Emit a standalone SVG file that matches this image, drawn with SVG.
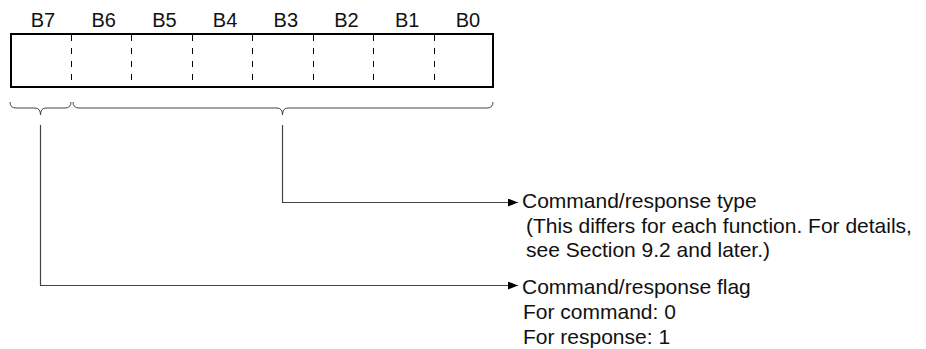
<svg xmlns="http://www.w3.org/2000/svg" width="926" height="349" viewBox="0 0 926 349">
<defs>
<style>
.lbl{font-family:"Liberation Sans",Arial,sans-serif;font-size:20px;fill:#111;text-anchor:middle}
.txt{font-family:"Liberation Sans",Arial,sans-serif;font-size:21px;fill:#111}
.div{stroke:#000;stroke-width:1;stroke-dasharray:6 7}
.con{fill:none;stroke:#444;stroke-width:1.2}
.brace{fill:none;stroke:#444;stroke-width:1}
</style>
<marker id="arr" viewBox="0 0 10 8" refX="10" refY="4" markerWidth="10" markerHeight="8" markerUnits="userSpaceOnUse" orient="auto">
<path d="M0,0 L10,4 L0,8 Z" fill="#000"/>
</marker>
</defs>
<rect width="926" height="349" fill="#fff"/>
<g id="register">
<g id="labels">
<text class="lbl" x="43" y="26.5">B7</text>
<text class="lbl" x="103.7" y="26.5">B6</text>
<text class="lbl" x="164.4" y="26.5">B5</text>
<text class="lbl" x="225.1" y="26.5">B4</text>
<text class="lbl" x="285.8" y="26.5">B3</text>
<text class="lbl" x="346.5" y="26.5">B2</text>
<text class="lbl" x="407.2" y="26.5">B1</text>
<text class="lbl" x="467.9" y="26.5">B0</text>
</g>
<rect x="11" y="34" width="482" height="53" fill="#fff" stroke="#000" stroke-width="2"/>
<line class="div" x1="71.5" y1="35" x2="71.5" y2="86"/>
<line class="div" x1="131.5" y1="35" x2="131.5" y2="86"/>
<line class="div" x1="192.5" y1="35" x2="192.5" y2="86"/>
<line class="div" x1="252.5" y1="35" x2="252.5" y2="86"/>
<line class="div" x1="313.5" y1="35" x2="313.5" y2="86"/>
<line class="div" x1="373.5" y1="35" x2="373.5" y2="86"/>
<line class="div" x1="434.5" y1="35" x2="434.5" y2="86"/>
</g>
<g id="brace-b7">
<path class="brace" d="M10,102 Q10,108 16,108 L35,108 Q40.5,108 40.5,115 Q40.5,108 46,108 L65,108 Q71,108 71,102"/>
</g>
<g id="brace-b6-b0">
<path class="brace" d="M73,102 Q73,108 79,108 L277,108 Q282.5,108 282.5,115 Q282.5,108 288,108 L487,108 Q493,108 493,102"/>
</g>
<g id="connectors">
<path class="con" d="M282.5,125 V202.5 H518" marker-end="url(#arr)"/>
<path class="con" d="M40.5,125 V285.5 H518" marker-end="url(#arr)"/>
</g>
<g id="type-note">
<text class="txt" x="522" y="208">Command/response type</text>
<text class="txt" x="526" y="232.5">(This differs for each function. For details,</text>
<text class="txt" x="526" y="257">see Section 9.2 and later.)</text>
</g>
<g id="flag-note">
<text class="txt" x="522" y="294">Command/response flag</text>
<text class="txt" x="523" y="319">For command: 0</text>
<text class="txt" x="523" y="344">For response: 1</text>
</g>
</svg>
